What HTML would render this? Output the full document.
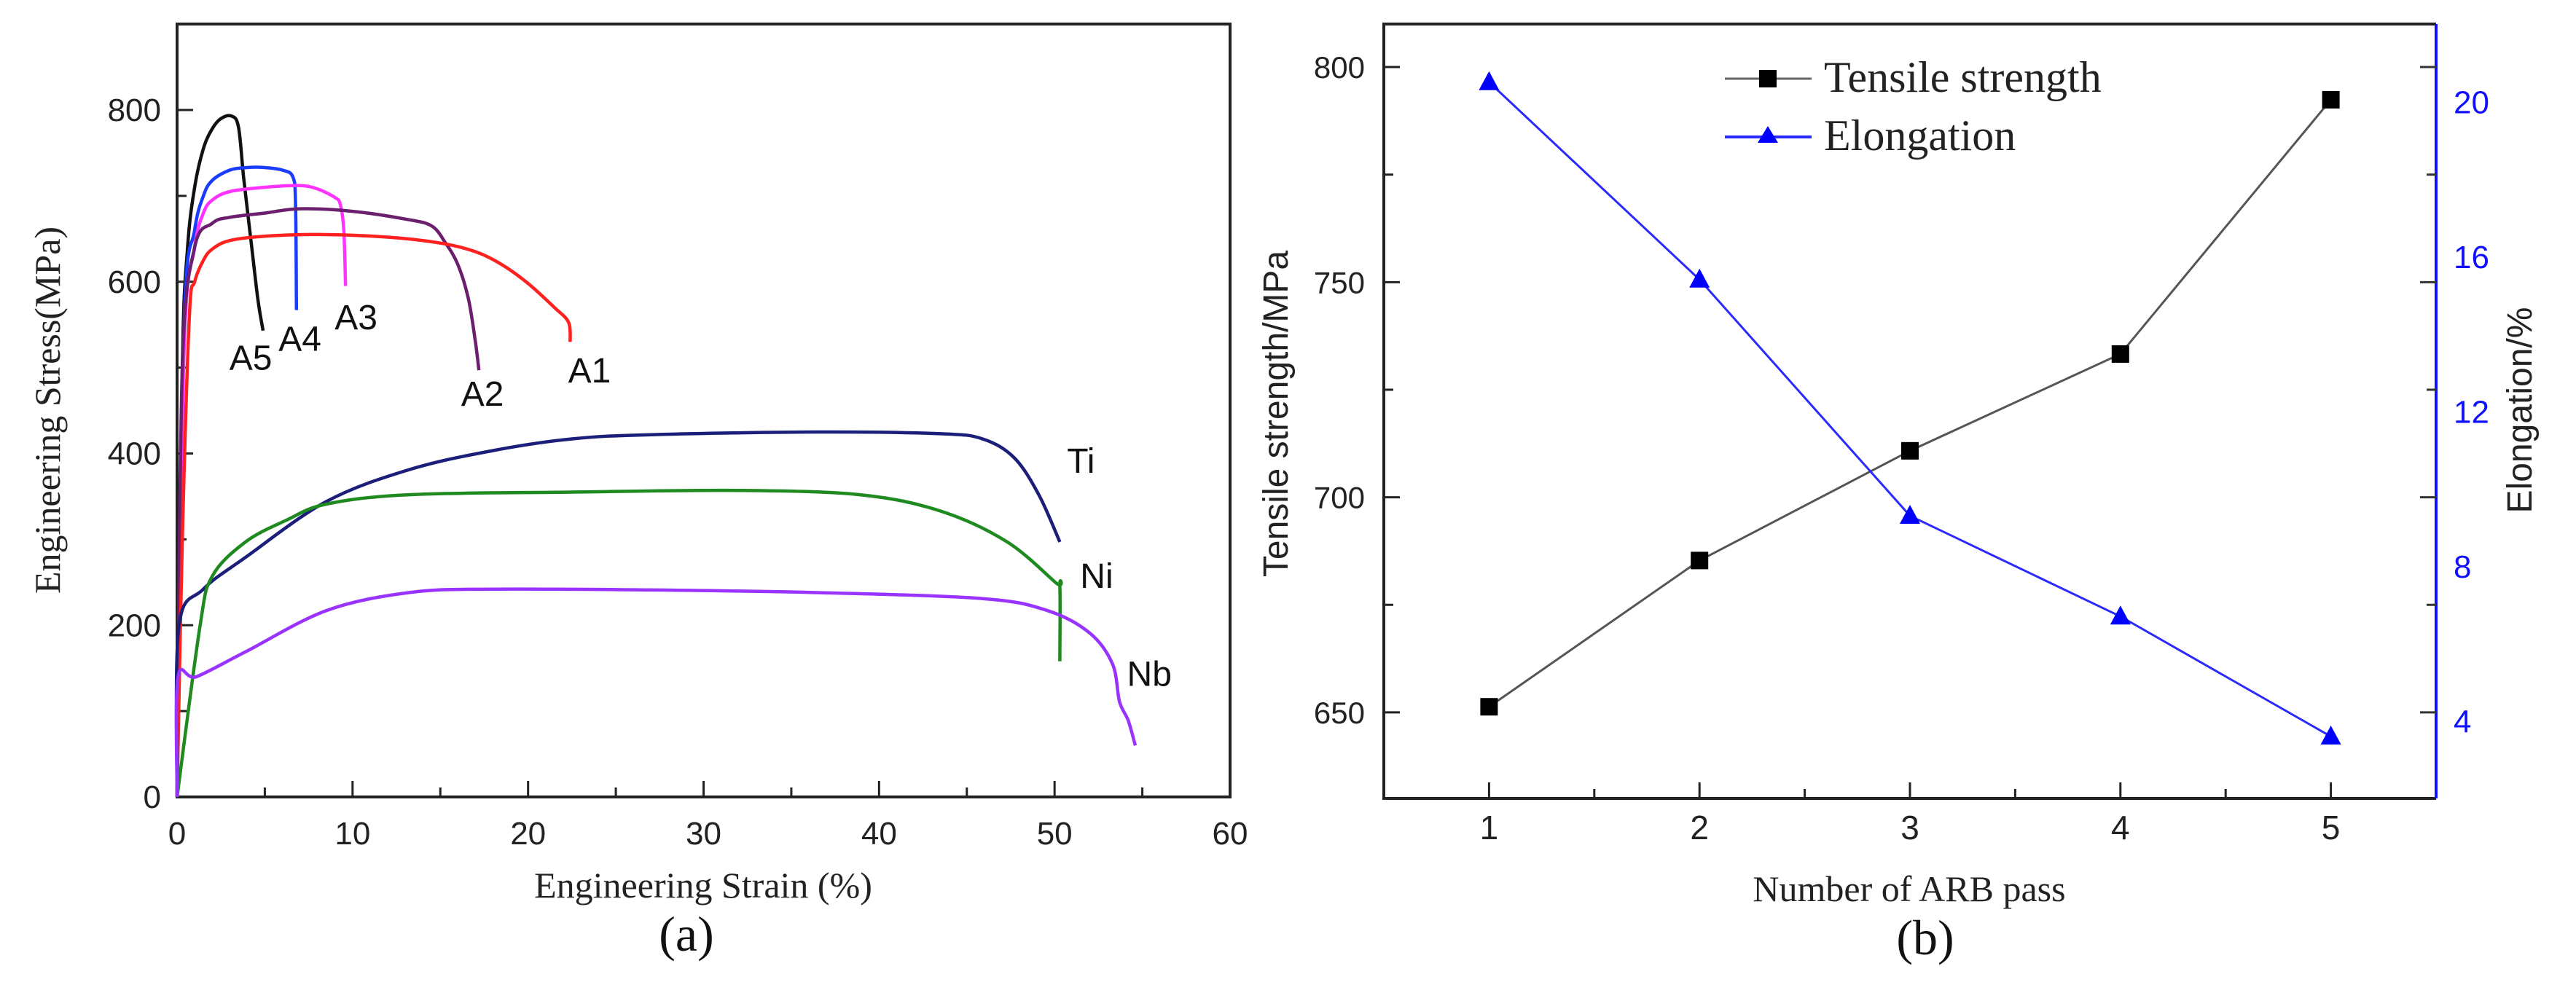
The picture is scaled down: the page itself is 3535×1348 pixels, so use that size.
<!DOCTYPE html>
<html><head><meta charset="utf-8"><style>
html,body{margin:0;padding:0;background:#fff;}
svg{display:block;}
.sans{font-family:"Liberation Sans",Arial,sans-serif;}
.serif{font-family:"Liberation Serif","Times New Roman",serif;}
</style></head><body>
<svg id="fig" width="3535" height="1348" viewBox="0 0 3535 1348" xmlns="http://www.w3.org/2000/svg">
<g id="pa"></g>
<g id="pb"></g>
</svg>
<script>
// ---------- Panel (a) data ----------
const a5Strain = [0,0.3,0.6,1,1.5,2,2.5,3.1,3.5,3.8,4.2,4.6,4.9];
const a5Stress = [0,500,640,710,755,778,790,793,780,720,650,580,543];
const a4Strain = [0,0.4,1,1.5,2,3,4,5,6,6.6,6.75,6.8];
const a4Stress = [0,550,660,700,718,730,733,733,730,722,690,567];
const a3Strain = [0,0.4,1,1.5,2,3,5,7,8,9,9.3,9.5,9.6];
const a3Stress = [0,520,640,680,695,705,710,712,708,698,690,660,595];
const a2Strain = [0,0.3,1,2,3,5,7,10,13,14.5,15.3,16,16.6,17,17.2];
const a2Stress = [0,500,640,668,675,680,685,682,673,665,645,620,580,530,497];
const a1Strain = [0,0.3,0.7,1,1.5,2,3,5,8,12,15,17,18.5,20,21.5,22.3,22.4];
const a1Stress = [0,300,560,600,625,638,648,653,655,652,645,635,620,598,570,553,530];
const tiStrain = [0,0.1,1.5,3.9,8.5,13.2,17.9,22.5,27.2,36.5,43.5,45.9,47.7,49.1,50.3];
const tiStress = [0,198,242,279,344,381,403,417,422,425,423,417,395,352,297];
const niStrain = [0,1.3,2,3.9,6.2,8.5,13.2,22.5,32,38.9,43.5,47.3,50.1,50.3,50.3];
const niStress = [0,198,257,297,322,341,352,355,357,352,333,297,249,246,158];
const nbStrain = [0,0.05,1.1,3.9,8.5,13.2,17.9,27.2,36.5,45.9,49.6,52,53.3,53.7,54.2,54.6];
const nbStress = [0,139,140,169,217,238,242,241,238,231,217,191,155,111,89,60];
const curveNames = ["A5","A4","A3","A2","A1","Ti","Ni","Nb"];
const labelStrain = [4.2,7.0,10.2,17.4,23.5,51.5,52.4,55.4];
const labelStress = [512,534,559,470,497,392,258,144];
const xTicksA = [0,10,20,30,40,50,60];
const yTicksA = [0,200,400,600,800];

// ---------- Panel (b) data ----------
const passes = [1,2,3,4,5];
const tensile = [651.3,685.3,710.8,733.3,792.4];
const elong = [20.5,15.4,9.3,6.7,3.6];
const yTicksB = [650,700,750,800];
const y2TicksB = [4,8,12,16,20];

const NS="http://www.w3.org/2000/svg";
function mk(parent,tag,attrs,text){const e=document.createElementNS(NS,tag);for(const k in attrs)e.setAttribute(k,attrs[k]);if(text!==undefined)e.textContent=text;parent.appendChild(e);return e;}
function smooth(pts){
 let d='M'+pts[0][0].toFixed(1)+','+pts[0][1].toFixed(1);
 for(let i=0;i<pts.length-1;i++){
  const p0=pts[Math.max(0,i-1)],p1=pts[i],p2=pts[i+1],p3=pts[Math.min(pts.length-1,i+2)];
  const t=1/6;
  const c1=[p1[0]+(p2[0]-p0[0])*t,p1[1]+(p2[1]-p0[1])*t];
  const c2=[p2[0]-(p3[0]-p1[0])*t,p2[1]-(p3[1]-p1[1])*t];
  d+=` C${c1[0].toFixed(1)},${c1[1].toFixed(1)} ${c2[0].toFixed(1)},${c2[1].toFixed(1)} ${p2[0].toFixed(1)},${p2[1].toFixed(1)}`;
 }
 return d;
}

// ---------- Panel (a) ----------
const pa=document.getElementById('pa');
const AL=243,AR=1688,AT=33,AB=1094;
const ax=v=>AL+(v-0)/60*(AR-AL);
const ay=v=>AB-(v/800)*(AB-151);
let e;
e=mk(pa,'rect',{x:AL,y:AT,width:AR-AL,height:AB-AT,fill:'none',stroke:'#222','stroke-width':4});


for(let v=0;v<=60;v+=5){const maj=v%10===0;
 e=mk(pa,'line',{x1:ax(v),x2:ax(v),y1:AB,y2:AB-(maj?22:13),stroke:'#222','stroke-width':3});
 
 }
for(let v=0;v<=800;v+=100){const maj=v%200===0;
 e=mk(pa,'line',{x1:AL,x2:AL+(maj?22:13),y1:ay(v),y2:ay(v),stroke:'#222','stroke-width':3});
 
 }
xTicksA.forEach(v=>{e=mk(pa,'text',{x:ax(v),y:AB+65,'text-anchor':'middle','font-size':44,fill:'#222',class:'sans'},String(v));
 
 });
yTicksA.forEach(v=>{e=mk(pa,'text',{x:AL-22,y:ay(v)+15,'text-anchor':'end','font-size':44,fill:'#222',class:'sans'},String(v));
 
 });
const series=[[a5Strain,a5Stress,'#111'],[a4Strain,a4Stress,'#1a3cff'],[a3Strain,a3Stress,'#ff33ff'],[a2Strain,a2Stress,'#6b1f6e'],[a1Strain,a1Stress,'#ff2020'],[tiStrain,tiStress,'#1c1f7a'],[niStrain,niStress,'#1f8a1f'],[nbStrain,nbStress,'#9933ff']];
series.forEach((s,i)=>{const pts=s[0].map((x,j)=>[ax(x),ay(s[1][j])]);
 e=mk(pa,'path',{d:smooth(pts),fill:'none',stroke:s[2],'stroke-width':4.5,'stroke-linejoin':'round'});
 
 });
curveNames.forEach((n,i)=>{e=mk(pa,'text',{x:ax(labelStrain[i]),y:ay(labelStress[i])+17,'text-anchor':'middle','font-size':48,fill:'#111',class:'sans'},n);
 
 });
e=mk(pa,'text',{x:0,y:0,transform:'translate(82,563) rotate(-90)','text-anchor':'middle','font-size':50,fill:'#222',class:'serif'},'Engineering Stress(MPa)');


e=mk(pa,'text',{x:965,y:1232,'text-anchor':'middle','font-size':50,fill:'#222',class:'serif'},'Engineering Strain (%)');


e=mk(pa,'text',{x:942,y:1305,'text-anchor':'middle','font-size':68,fill:'#111',class:'serif'},'(a)');



// ---------- Panel (b) ----------
const pb=document.getElementById('pb');
const BL=1899,BR=3343,BT=33,BB=1096;
const bx=v=>BL+(v-0.5)/5*(BR-BL);
const by=v=>BB-(v-630)/180*(BB-BT);
const by2=v=>BB-(v-2)/20*(BB-BT);
e=mk(pb,'path',{d:`M${BR},${BB} L${BL},${BB} L${BL},${BT} L${BR},${BT}`,fill:'none',stroke:'#222','stroke-width':4});


e=mk(pb,'line',{x1:BR,x2:BR,y1:BT,y2:BB,stroke:'#1010ff','stroke-width':4});


for(let v=1;v<=5;v+=0.5){const maj=Number.isInteger(v);
 e=mk(pb,'line',{x1:bx(v),x2:bx(v),y1:BB,y2:BB-(maj?22:13),stroke:'#222','stroke-width':3});
 
 }
for(let v=650;v<=800;v+=25){const maj=v%50===0;
 e=mk(pb,'line',{x1:BL,x2:BL+(maj?22:13),y1:by(v),y2:by(v),stroke:'#222','stroke-width':3});
 
 
 e=mk(pb,'line',{x1:BR,x2:BR-(maj?22:13),y1:by(v),y2:by(v),stroke:'#333','stroke-width':3});
 
 }
passes.forEach(v=>{e=mk(pb,'text',{x:bx(v),y:1152,'text-anchor':'middle','font-size':46,fill:'#222',class:'sans'},String(v));
 
 });
yTicksB.forEach(v=>{e=mk(pb,'text',{x:1873,y:by(v)+15,'text-anchor':'end','font-size':42,fill:'#222',class:'sans'},String(v));
 
 });
y2TicksB.forEach(v=>{e=mk(pb,'text',{x:3367,y:by2(v)+16,'text-anchor':'start','font-size':44,fill:'#1010ff',class:'sans'},String(v));
 
 });
e=mk(pb,'polyline',{points:passes.map((p,i)=>bx(p)+','+by(tensile[i])).join(' '),fill:'none',stroke:'#555','stroke-width':3});


passes.forEach((p,i)=>{e=mk(pb,'rect',{x:bx(p)-12,y:by(tensile[i])-12,width:24,height:24,fill:'#000'});
 
 });
e=mk(pb,'polyline',{points:passes.map((p,i)=>bx(p)+','+by2(elong[i])).join(' '),fill:'none',stroke:'#2a2aff','stroke-width':3});


passes.forEach((p,i)=>{const x=bx(p),y=by2(elong[i]);
 e=mk(pb,'polygon',{points:`${x},${y-15} ${x-14},${y+11} ${x+14},${y+11}`,fill:'#0000ff'});
 
 });
// legend
e=mk(pb,'line',{x1:2367,x2:2486,y1:108,y2:108,stroke:'#666','stroke-width':3});


e=mk(pb,'rect',{x:2414,y:96,width:24,height:24,fill:'#000'});


e=mk(pb,'text',{x:2503,y:126,'font-size':60,fill:'#222',class:'serif'},'Tensile strength');


e=mk(pb,'line',{x1:2367,x2:2486,y1:188,y2:188,stroke:'#2a2aff','stroke-width':4});


e=mk(pb,'polygon',{points:'2426,173 2412,196 2440,196',fill:'#0000ff'});


e=mk(pb,'text',{x:2503,y:206,'font-size':60,fill:'#222',class:'serif'},'Elongation');


// titles
e=mk(pb,'text',{x:0,y:0,transform:'translate(1767,568) rotate(-90)','text-anchor':'middle','font-size':48,fill:'#222',class:'sans'},'Tensile strength/MPa');


e=mk(pb,'text',{x:0,y:0,transform:'translate(3474,563) rotate(-90)','text-anchor':'middle','font-size':48,fill:'#222',class:'sans'},'Elongation/%');


e=mk(pb,'text',{x:2620,y:1237,'text-anchor':'middle','font-size':50,fill:'#222',class:'serif'},'Number of ARB pass');


e=mk(pb,'text',{x:2642,y:1310,'text-anchor':'middle','font-size':68,fill:'#111',class:'serif'},'(b)');


</script>
</body></html>
